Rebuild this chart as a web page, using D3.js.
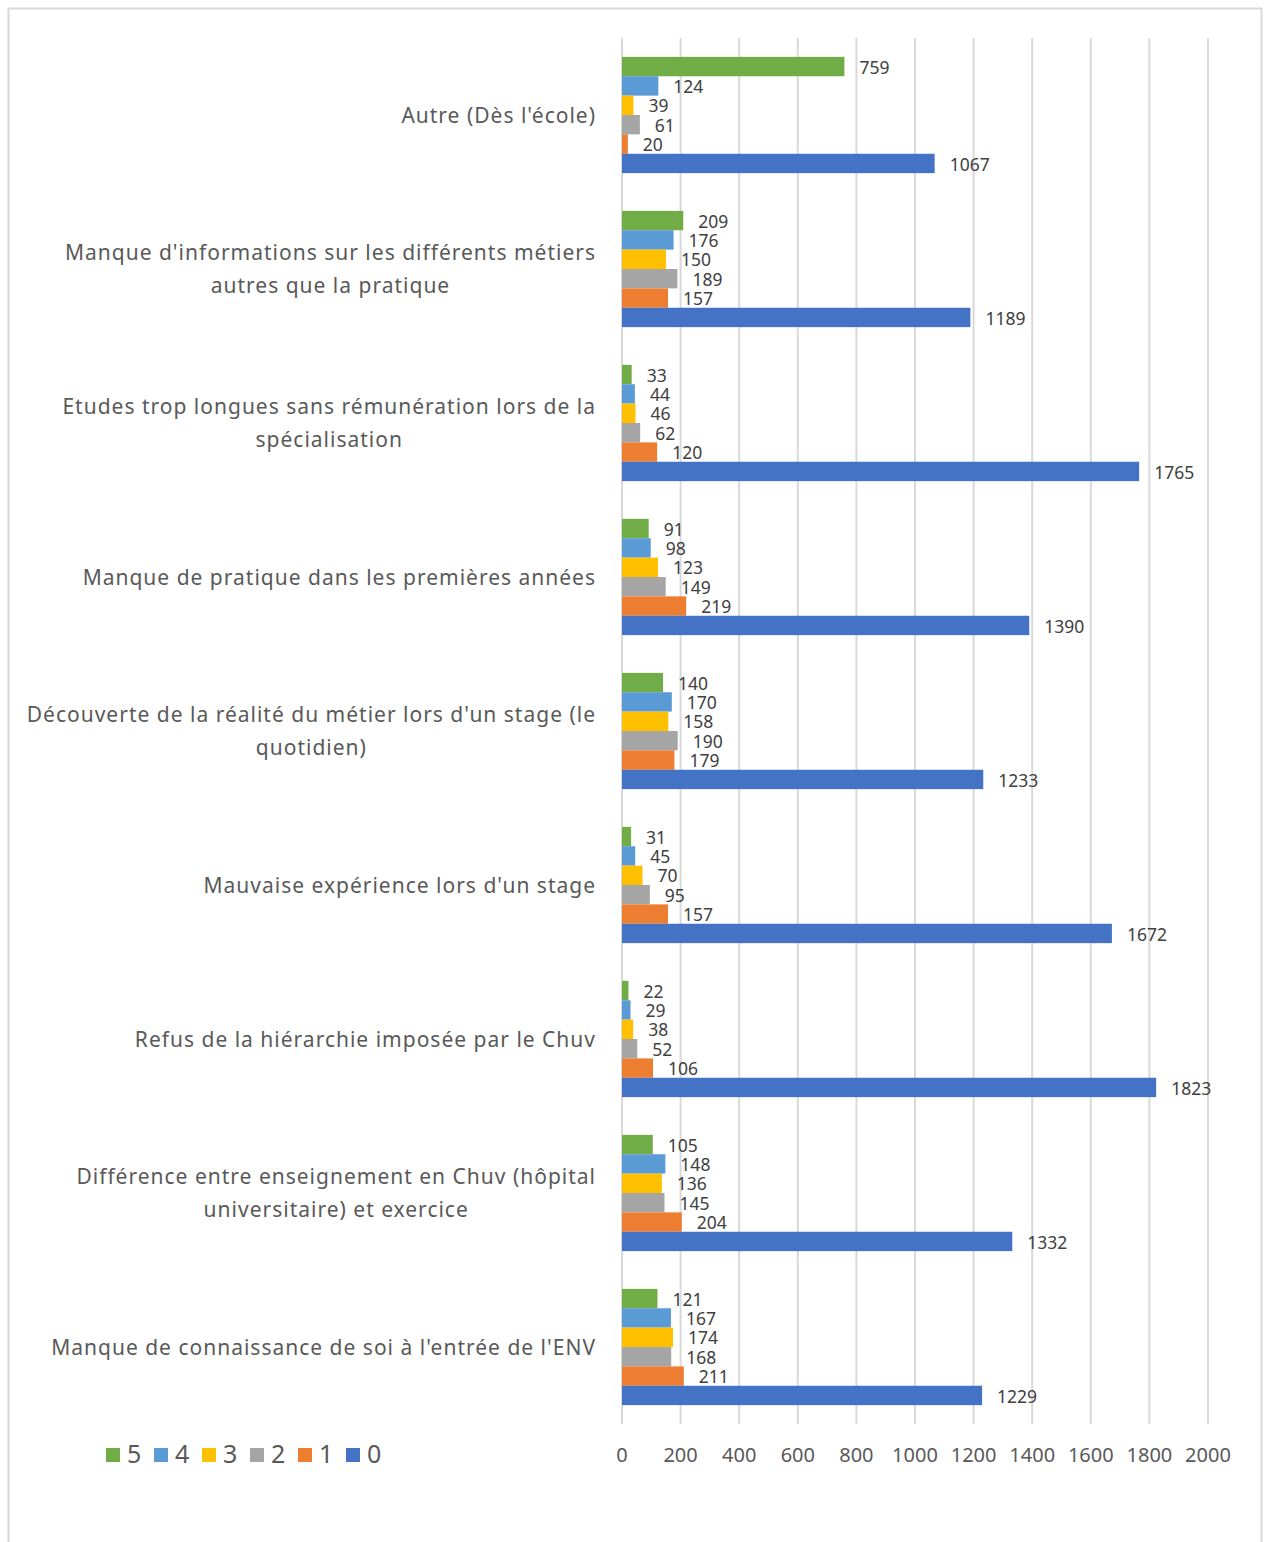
<!DOCTYPE html>
<html>
<head>
<meta charset="utf-8">
<script src="https://cdn.jsdelivr.net/npm/d3@7"></script>
<style>
  body { margin: 0; background: #fff; }
  svg text { font-family: "Noto Sans", "Liberation Sans", sans-serif; }
</style>
</head>
<body>
<svg id="chart" width="1264" height="1542"></svg>
<script>
// categories, top to bottom (each entry = lines of the wrapped label)
const categories = [
  ["Autre (Dès l'école)"],
  ["Manque d'informations sur les différents métiers", "autres que la pratique"],
  ["Etudes trop longues sans rémunération lors de la", "spécialisation"],
  ["Manque de pratique dans les premières années"],
  ["Découverte de la réalité du métier lors d'un stage (le", "quotidien)"],
  ["Mauvaise expérience lors d'un stage"],
  ["Refus de la hiérarchie imposée par le Chuv"],
  ["Différence entre enseignement en Chuv (hôpital", "universitaire) et exercice"],
  ["Manque de connaissance de soi à l'entrée de l'ENV"]
];

const seriesNames = ["5", "4", "3", "2", "1", "0"];
const seriesColors = ["#70AD47", "#5B9BD5", "#FFC000", "#A5A5A5", "#ED7D31", "#4472C4"];

const s5 = [759, 209, 33, 91, 140, 31, 22, 105, 121];
const s4 = [124, 176, 44, 98, 170, 45, 29, 148, 167];
const s3 = [39, 150, 46, 123, 158, 70, 38, 136, 174];
const s2 = [61, 189, 62, 149, 190, 95, 52, 145, 168];
const s1 = [20, 157, 120, 219, 179, 157, 106, 204, 211];
const s0 = [1067, 1189, 1765, 1390, 1233, 1672, 1823, 1332, 1229];
const seriesValues = [s5, s4, s3, s2, s1, s0];

const xTicks = [0, 200, 400, 600, 800, 1000, 1200, 1400, 1600, 1800, 2000];

const svg = d3.select('#chart');

// outer frame
svg.append('rect')
    .attr('x', 8.5).attr('y', 8.5)
    .attr('width', 1253).attr('height', 1600)
    .attr('fill', 'none')
    .attr('stroke', '#d9d9d9')
    .attr('stroke-width', 2);

var x = d3.scaleLinear().domain([0, 2000]).range([622, 1208]);
var y = d3.scaleBand().domain(d3.range(categories.length))
    .range([38, 1424]).paddingInner(0.245).paddingOuter(0.1225);
var yInner = d3.scaleBand().domain(seriesNames).range([0, y.bandwidth()]);

// gridlines
svg.append('g').selectAll('line').data(xTicks).enter().append('line')
    .attr('x1', d => x(d)).attr('x2', d => x(d))
    .attr('y1', 38).attr('y2', 1424)
    .attr('stroke', '#d9d9d9')
    .attr('stroke-width', 2);

// tick labels
svg.append('g').selectAll('text').data(xTicks).enter().append('text')
    .attr('x', d => x(d)).attr('y', 1457)
    .attr('text-anchor', 'middle')
    .attr('dominant-baseline', 'middle')
    .attr('font-size', 20)
    .attr('fill', '#595959')
    .text(d => d);

// bars
var groups = svg.append('g').selectAll('g.group').data(categories).enter().append('g')
    .attr('class', 'group')
    .attr('transform', (d, i) => 'translate(0,' + y(i) + ')');

groups.each(function(cat, ci) {
    var g = d3.select(this);
    var rows = seriesNames.map((s, si) => ({series: s, color: seriesColors[si], value: seriesValues[si][ci]}));
    g.selectAll('rect').data(rows).enter().append('rect')
        .attr('x', x(0))
        .attr('y', d => yInner(d.series))
        .attr('width', d => x(d.value) - x(0))
        .attr('height', yInner.bandwidth())
        .attr('fill', d => d.color);
    g.selectAll('text.value').data(rows).enter().append('text')
        .attr('class', 'value')
        .attr('x', d => x(d.value) + 15)
        .attr('y', d => yInner(d.series) + yInner.bandwidth() / 2 + 2.5)
        .attr('dominant-baseline', 'middle')
        .attr('font-size', 17.5)
        .attr('fill', '#404040')
        .text(d => d.value);
});

// category labels, wrapped lines centred within a right-aligned block
var labelRight = 596, lineH = 33;
categories.forEach(function(lines, i) {
    var cy = y(i) + y.bandwidth() / 2 + 2;
    var lg = svg.append('g');
    var texts = lines.map(function(line, li) {
        return lg.append('text')
            .attr('y', cy + (li - (lines.length - 1) / 2) * lineH)
            .attr('text-anchor', 'middle')
            .attr('dominant-baseline', 'middle')
            .attr('font-size', 21)
            .attr('letter-spacing', 1)
            .attr('fill', '#595959')
            .text(line);
    });
    var maxW = d3.max(texts, t => t.node().getComputedTextLength());
    texts.forEach(t => t.attr('x', labelRight - maxW / 2));
});

// legend
var legend = svg.append('g').selectAll('g').data(seriesNames).enter().append('g')
    .attr('transform', (d, i) => 'translate(' + (106 + i * 48) + ',1455)');
legend.append('rect')
    .attr('x', 0).attr('y', -7)
    .attr('width', 14).attr('height', 14)
    .attr('fill', (d, i) => seriesColors[i]);
legend.append('text')
    .attr('x', 21).attr('y', 1)
    .attr('dominant-baseline', 'middle')
    .attr('font-size', 25)
    .attr('fill', '#595959')
    .text(d => d);
</script>
</body>
</html>
